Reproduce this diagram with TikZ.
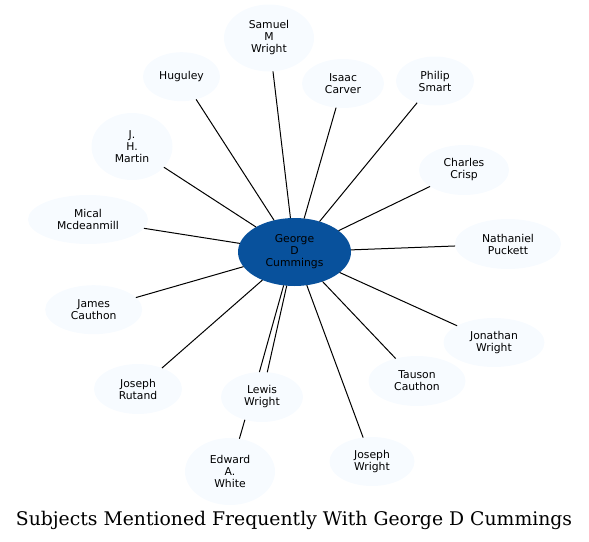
\documentclass[tikz,border=0pt]{standalone}
\usepackage{fontspec}
\usetikzlibrary{shapes.geometric}
\setmainfont{DejaVu Sans}
\newfontfamily\titlefont{DejaVu Serif}
\definecolor{hub}{HTML}{08519C}
\definecolor{leaf}{HTML}{F7FBFF}
\begin{document}
\begin{tikzpicture}[x=1pt,y=-1pt,
  person/.style={ellipse,fill=leaf,inner sep=0pt,outer sep=0pt,align=center,
    font=\fontsize{10.8}{12}\selectfont},
  hubnode/.style={person,fill=hub},
  link/.style={draw=black,line width=1pt}]
\useasboundingbox (0,0) rectangle (589,541);
\node[hubnode,minimum width=113,minimum height=68] (g) at (294.5,252) {George\\D\\Cummings};
\node[person,minimum width=90,minimum height=67] (sam) at (269,38) {Samuel\\M\\Wright};
\node[person,minimum width=77,minimum height=49] (hug) at (181.5,76.7) {Huguley};
\node[person,minimum width=82,minimum height=49] (isa) at (343,83.5) {Isaac\\Carver};
\node[person,minimum width=78,minimum height=49] (phi) at (435,81) {Philip\\Smart};
\node[person,minimum width=81,minimum height=67] (jhm) at (132,146.5) {J.\\H.\\Martin};
\node[person,minimum width=90,minimum height=50] (cha) at (464,170) {Charles\\Crisp};
\node[person,minimum width=120,minimum height=49] (mic) at (88,219.5) {Mical\\Mcdeanmill};
\node[person,minimum width=106,minimum height=50] (nat) at (508,244) {Nathaniel\\Puckett};
\node[person,minimum width=97,minimum height=49] (jam) at (93.7,309.7) {James\\Cauthon};
\node[person,minimum width=101,minimum height=49] (jon) at (494,342.5) {Jonathan\\Wright};
\node[person,minimum width=97,minimum height=50] (tau) at (417,381) {Tauson\\Cauthon};
\node[person,minimum width=88,minimum height=50] (jru) at (138,389) {Joseph\\Rutand};
\node[person,minimum width=82,minimum height=50] (lew) at (262,397) {Lewis\\Wright};
\node[person,minimum width=90,minimum height=67] (edw) at (230,471.5) {Edward\\A.\\White};
\node[person,minimum width=85,minimum height=49] (jwr) at (372,461.5) {Joseph\\Wright};
\foreach \n in {sam,hug,isa,phi,jhm,cha,mic,nat,jam,jon,tau,jru,jwr}
  \draw[link] (g) -- (\n);
\draw[link] (g.252.4) -- (lew.96.8);
\draw[link] (g.257.7) -- (lew.78.7);
\draw[link] (lew.233.5) -- (edw.74.5);
\node[font=\titlefont\fontsize{18.8}{22}\selectfont,anchor=base] (title) at (294,525) {Subjects Mentioned Frequently With George D Cummings};
\end{tikzpicture}
\end{document}
